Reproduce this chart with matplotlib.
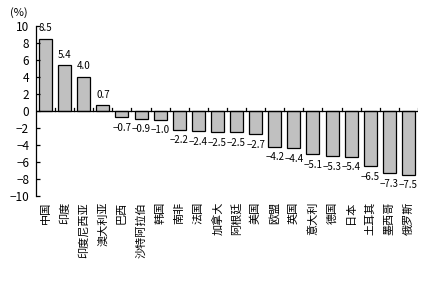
import matplotlib
matplotlib.use("Agg")
import matplotlib.pyplot as plt
import numpy as np

plt.rcParams["font.family"] = ["Noto Sans CJK SC", "DejaVu Sans"]

countries = ["中国", "印度", "印度尼西亚", "澳大利亚", "巴西", "沙特阿拉伯", "韩国",
             "南非", "法国", "加拿大", "阿根廷", "美国", "欧盟", "英国", "意大利",
             "德国", "日本", "土耳其", "墨西哥", "俄罗斯"]
growth = [8.5, 5.4, 4.0, 0.7, -0.7, -0.9, -1.0, -2.2, -2.4, -2.5, -2.5, -2.7,
          -4.2, -4.4, -5.1, -5.3, -5.4, -6.5, -7.3, -7.5]

fig = plt.figure(figsize=(4.22, 2.83), dpi=100)
ax = fig.add_axes([0.0853, 0.3074, 0.9052, 0.6006])

x = np.arange(len(countries))
ax.bar(x, growth, width=0.68, color="#c0c0c0", edgecolor="black", linewidth=0.9)

for xi, v in zip(x, growth):
    if v >= 0:
        ax.annotate(f"{v:.1f}", (xi, v), xytext=(0, 4), textcoords="offset points",
                    ha="center", va="bottom", fontsize=7)
    else:
        ax.annotate(f"\u2212{abs(v):.1f}", (xi, v), xytext=(0, -4),
                    textcoords="offset points", ha="center", va="top", fontsize=7)

ax.set_xlim(-0.5, len(countries) - 0.5)
ax.set_ylim(-10, 10)
ax.set_yticks(np.arange(-10, 11, 2))
ax.tick_params(axis="y", direction="in", length=3, width=0.9, labelsize=8.5, pad=5)

ax.spines["top"].set_visible(False)
ax.spines["right"].set_visible(False)
ax.spines["bottom"].set_visible(False)
ax.spines["left"].set_linewidth(0.9)
ax.axhline(0, color="black", linewidth=0.9)

# tick marks on the zero line between categories
ax.set_xticks([])
for b in np.arange(0.5, len(countries), 1.0):
    ax.plot([b, b], [0, 0.35], color="black", linewidth=0.9)

for xi, name in zip(x, countries):
    ax.text(xi, -10.7, name, rotation=90, ha="center", va="top", fontsize=8)

fig.text(0.024, 0.955, "(%)", fontsize=8, ha="left", va="center")

fig.savefig("out.png", dpi=100)
